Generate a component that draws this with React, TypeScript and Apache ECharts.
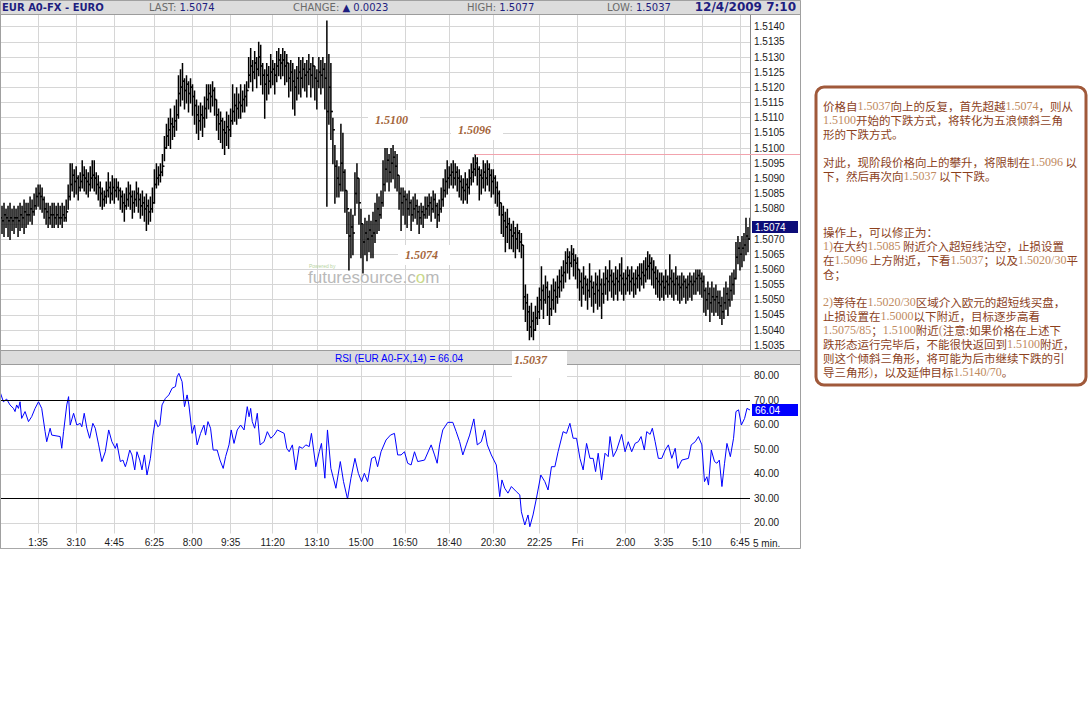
import React, { useEffect, useRef } from 'react';
import * as echarts from 'echarts';

// ---------- DATA ----------
// prices are stored in pips above 1.5000 (price = BASE + pips * PIP)
const BASE = 1.5;
const PIP = 0.0001;

const CLOSE_PIPS = [
  77,76,78,77,76,77,76,77,77,76,78,77,79,78,78,80,79,
  81,84,85,84,83,
  80,79,77,78,78,77,78,77,77,78,77,79,
  84,88,91,89,90,87,89,91,90,89,88,90,91,90,88,87,85,
  83,84,86,87,85,87,86,
  87,86,84,82,81,83,85,84,82,83,85,83,81,82,80,81,79,80,82,
  88,90,91,92,94,100,104,
  106,108,107,109,111,
  118,120,122,119,121,118,120,117,
  114,111,109,111,110,113,
  116,118,117,119,116,
  111,108,109,106,105,107,106,109,
  112,114,113,115,114,116,117,119,
  124,127,125,128,126,130,127,124,121,
  124,122,125,126,124,127,129,128,129,127,128,
  123,125,122,120,123,
  125,123,126,124,125,126,124,127,123,
  122,125,124,126,123,
  112,120,112,106,94,90,88,95,92,86,80,71,74,72,85,90,82,75,69,72,70,73,71,
  72,76,80,78,82,
  88,93,
  96,92,95,97,94,91,
  85,82,84,83,
  80,82,78,80,81,79,77,79,78,80,81,82,80,83,81,78,80,83,
  86,89,90,91,92,
  90,92,90,89,87,86,88,87,90,92,
  93,95,93,91,90,
  92,90,93,91,89,90,87,
  85,82,
  78,76,74,75,73,
  71,72,70,72,69,68,
  51,49,46,41,43,40,44,46,
  50,53,50,54,51,47,50,
  53,51,54,56,58,59,
  62,64,62,65,63,62,60,
  56,54,57,55,53,56,54,52,55,53,55,52,55,57,
  56,58,56,55,57,56,58,57,55,57,
  58,56,57,55,57,58,57,59,58,60,61,62,60,59,57,56,
  55,56,54,56,55,57,56,55,57,55,
  54,55,56,54,55,56,55,56,57,58,57,56,
  53,50,52,49,51,50,51,49,48,46,49,
  52,50,53,55,57,
  64,67,65,67,68,71,70,74,
];

const HIGH_PIPS = [
  83,81,82,80,81,82,80,81,80,81,82,81,83,82,82,84,83,
  85,87,88,88,87,
  84,82,82,81,82,82,81,82,81,82,81,83,
  88,95,95,93,94,91,92,96,94,93,92,94,96,96,92,91,89,
  87,86,89,92,89,91,90,
  90,89,87,86,85,87,89,88,86,86,89,87,85,86,84,85,83,84,87,
  93,95,94,95,98,104,108,
  110,113,110,114,116,
  124,126,128,123,124,122,123,121,
  119,116,114,115,114,117,
  121,121,121,122,120,
  116,113,112,110,109,112,111,113,
  121,118,120,118,121,119,121,122,
  130,133,129,132,130,135,134,128,126,
  128,127,131,129,128,132,133,131,133,132,131,
  128,129,128,126,127,
  130,129,130,128,129,131,128,130,127,
  126,130,129,130,128,
  142,131,128,110,101,96,94,108,105,93,86,79,80,78,92,95,90,80,75,77,76,78,76,
  79,82,85,84,86,
  96,100,
  100,98,100,101,99,98,
  91,87,87,86,
  85,86,83,84,85,83,81,82,81,84,84,85,84,86,85,82,83,87,
  90,93,96,94,95,
  96,95,94,93,91,90,92,90,93,95,
  97,98,97,94,93,
  96,95,96,95,93,93,91,
  89,86,
  82,81,79,80,77,
  75,76,74,75,73,72,
  68,55,52,48,49,46,48,51,
  54,61,55,58,56,53,55,
  57,56,58,60,61,63,
  66,67,66,68,67,65,64,
  60,59,61,58,57,62,58,56,59,58,60,57,59,61,
  60,63,60,59,61,60,62,64,59,60,
  61,60,61,59,60,61,62,62,63,64,66,65,64,63,61,60,
  59,59,58,60,58,65,60,59,61,58,
  58,59,58,57,58,59,58,59,60,60,60,59,
  58,54,56,54,56,54,55,53,53,51,54,
  56,54,58,59,60,
  69,71,69,71,72,77,74,77,
];

const LOW_PIPS = [
  66,72,71,74,71,70,73,72,74,71,73,74,72,74,75,76,75,
  78,80,81,80,79,
  77,75,74,75,74,74,75,74,75,74,76,76,
  80,83,86,84,85,83,86,87,86,85,84,86,87,86,85,83,81,
  80,81,82,84,82,83,82,
  84,83,80,79,76,80,81,80,77,79,81,79,77,78,76,73,75,76,79,
  82,87,88,89,91,96,100,
  101,100,103,104,106,
  110,114,116,113,115,112,115,111,
  108,105,103,106,104,107,
  110,113,112,114,111,
  106,103,102,100,98,101,100,104,
  108,109,108,110,110,112,112,114,
  120,122,119,123,120,124,121,118,110,
  116,118,120,121,118,122,124,123,124,121,122,
  117,119,113,111,116,
  118,117,120,119,117,121,117,120,116,
  113,120,118,120,113,
  81,108,103,95,82,84,84,86,86,79,72,60,64,65,78,82,75,64,59,65,63,66,64,
  64,69,72,73,77,
  81,86,
  89,86,89,90,87,86,
  80,73,78,75,
  74,78,73,76,77,75,72,75,74,77,77,78,76,79,77,74,76,79,
  81,84,85,87,88,
  87,88,86,84,83,82,83,82,85,88,
  89,91,88,83,85,
  87,86,88,86,84,85,82,
  81,78,
  72,71,66,69,67,
  67,66,64,67,66,64,
  47,43,40,37,38,37,40,42,
  44,47,44,49,45,42,45,
  47,46,49,51,53,54,
  56,59,57,61,58,57,54,
  50,48,52,50,47,51,48,46,49,47,48,44,49,52,
  50,53,51,50,52,50,53,52,50,52,
  53,52,53,51,52,54,53,55,54,56,57,57,55,54,52,51,
  50,51,50,52,51,52,51,50,52,50,
  49,50,51,49,50,51,50,52,52,53,52,51,
  46,45,47,43,46,45,46,45,44,42,44,
  47,45,48,50,52,
  57,62,60,61,63,65,66,70,
];

// RSI(14) readings: [bar index, value]
const RSI_POINTS: [number, number][] = [
  [0,73.5],[1.7,69.4],[3.3,70.5],[5,68.1],[6.7,66.7],[7.5,65.4],[8.3,68.1],[9.2,66.7],[10,69.4],[10.8,62.6],
  [12.5,65.4],[14.2,61.3],[15.8,63.3],[17.5,66.7],[19.2,69.4],[20.8,66.7],[22.5,57.2],[23.3,53.1],[25,58.6],[25.8,55.8],
  [30,55.2],[30.8,50.4],[31.7,57.2],[33.3,68.1],[34.2,71.5],[35,59.9],[36.7,64.7],[38.3,59.9],[40,60.6],[40.8,59.2],
  [42,64.7],[43.3,58.6],[44.7,54.5],[46.3,60.6],[47.5,58.6],[49.2,51.8],[50.8,45],[52.5,49],[54.2,57.9],[55.8,53.1],
  [57.5,50.4],[58.3,52.4],[60,45],[61.3,45.6],[62.5,42.9],[63.3,45],[64.7,49.7],[65.8,47.7],[67.2,41.6],[68.3,49],
  [69.7,45.6],[70.8,41.6],[72,47.7],[73.3,39.5],[75,46.3],[76.3,55.8],[77.5,62],[78.7,59.2],[79.7,59.9],[80.8,68.1],
  [82.5,70.8],[84.2,72.2],[85.8,74.9],[87.5,75.6],[88.3,79.6],[89.2,81],[90.8,77.6],[92,67.4],[93.3,72.2],[94.2,68.1],
  [95.8,56.5],[97,59.9],[98.3,51.8],[100,56.5],[101.7,59.9],[102.5,55.8],[103.7,61.3],[105,58.6],[106.3,49.7],[108.3,49.7],
  [109.7,45.6],[111.3,42.2],[112.5,47],[114.2,51.8],[115.3,57.9],[116.7,52.4],[118.3,57.9],[120,59.9],[121.7,57.9],[123.3,67.4],
  [124.2,63.3],[125,66.7],[125.8,61.3],[127,58.6],[128.3,64.7],[129.7,51.8],[131.7,53.1],[133.3,57.2],[135,54.5],[136.7,55.8],
  [138.3,57.9],[141.7,56.5],[143,50.4],[144.2,49],[145.8,51.8],[147.5,41.6],[149.2,51.1],[150.8,50.4],[152.5,51.8],[154.2,51.1],
  [155.3,56.5],[157.5,42.9],[159.2,49],[160.3,52.4],[162,38.2],[163.3,57.9],[165,42.2],[167.5,34.1],[169.7,45],[171.3,36.8],
  [173.3,29.7],[175,38.2],[177,46.3],[178.7,40.2],[180.3,36.8],[181.7,40.2],[183.3,36.8],[185.3,46.3],[187,47],[188.3,42.9],
  [190,49],[192.5,53.8],[194.7,55.8],[196.7,56.5],[198.3,47.7],
  [200,47.7],[201.7,49],[203.3,44.3],[205,43.6],[206.7,49],[208.3,45],[211.7,45.6],[215,51.8],[216.7,47.7],[218,44.3],
  [219.2,51.8],[220.8,57.9],[223.3,61],[225.8,61],[227.5,57.2],[229.2,53.1],[230.8,47.7],[232.5,51.8],[234.2,55.8],[236.3,62.4],
  [238,51.8],[240,53.1],[241.7,57.9],[243,51.8],[245,47.7],[247.5,43.6],[249.2,30.7],[250.3,37.5],[251.7,34.1],[253.3,32.1],
  [255,34.8],[257.5,32.7],[259.2,31.4],[260,24.5],[261.7,19.1],[263.3,23.2],[264.2,18.4],[265.8,23.2],[267.5,30],[269.7,39.5],
  [271.7,36.8],[273.3,33.4],[275,42.9],[276.7,42.9],[278.3,49],[280.8,57.2],[282.5,56.5],[284.2,60.6],[285.8,54.5],[287.5,54.5],
  [289.2,46.3],[290.8,41.6],[292.5,52.4],[294.2,46.3],[295.8,46.3],[297,40.9],[298.3,48.4],[300,37.5],[301.7,48.4],[303.3,47],
  [304.2,55.2],[305.8,47],[307.5,49.7],[310,56.1],[311.7,49],[313.3,53.1],[315,49],[316.7,52.4],[318.3,53.1],[319.7,55.2],
  [321.3,49.7],[322.5,57.2],[324.2,56.1],[325.3,58.6],[326.7,53.1],[328.3,46.3],[330,46.3],[331.7,49.7],[333.3,51.8],[335,46.3],
  [336.7,50.4],[338,42.2],[340,45.6],[343.3,46.3],[344.7,51.8],[346.7,53.1],[348.3,55.2],[350,51.8],[351.3,36.8],[352.5,38.8],
  [353.3,35.4],[354.7,49.7],[356.3,45],[357.5,44.3],[358.7,45.6],[360,34.8],[361.3,44.3],[362.5,52.4],[364.2,47],[365.8,54.5],
  [367,65.4],[368.3,66.1],[369.7,59.9],[371.3,62.6],[372.5,66.7],[374,66.04],
];

const RSI_LEVELS = [70, 30];
const RESIST_START = 237;
const RESIST_LEVEL = 1.5098;

const TICK_INDEX = [19, 38, 57, 77, 96, 115, 136, 158, 180, 202, 224, 246, 269, 288, 312, 331, 350, 369];
const TICK_LABELS = ['1:35','3:10','4:45','6:25','8:00','9:35','11:20','13:10','15:00','16:50','18:40','20:30','22:25','Fri','2:00','3:35','5:10','6:45'];

const HEADER = { title: 'EUR A0-FX - EURO', last: '1.5074', change: '0.0023', high: '1.5077', low: '1.5037', date: '12/4/2009 7:10' };
const RSI_TITLE = 'RSI (EUR A0-FX,14) = 66.04';

const PRICE_NOTES = [
  { text: '1.5100', x: 375, y: 120 },
  { text: '1.5096', x: 458, y: 130 },
  { text: '1.5074', x: 405, y: 255 },
  { text: '1.5037', x: 514, y: 360 },
];

const ANNOT_LINES = [
  '价格自1.5037向上的反复，首先超越1.5074，则从',
  '1.5100开始的下跌方式，将转化为五浪倾斜三角',
  '形的下跌方式。',
  '',
  '对此，现阶段价格向上的攀升，将限制在1.5096 以',
  '下，然后再次向1.5037 以下下跌。',
  '',
  '',
  '',
  '操作上，可以修正为：',
  '1)在大约1.5085 附近介入超短线沽空，止损设置',
  '在1.5096 上方附近，下看1.5037；以及1.5020/30平',
  '仓；',
  '',
  '2)等待在1.5020/30区域介入欧元的超短线买盘，',
  '止损设置在1.5000以下附近，目标逐步高看',
  '1.5075/85；1.5100附近(注意:如果价格在上述下',
  '跌形态运行完毕后，不能很快返回到1.5100附近，',
  '则这个倾斜三角形，将可能为后市继续下跌的引',
  '导三角形)，以及延伸目标1.5140/70。',
];

// ---------- DERIVED ----------
const N = CLOSE_PIPS.length;
const CATEGORIES = Array.from({ length: N }, (_, i) => {
  const m = i * 5;
  return `${Math.floor(m / 60) % 24}:${String(m % 60).padStart(2, '0')}`;
});
const TICK_SET = new Set(TICK_INDEX);
const TICK_MAP = new Map(TICK_INDEX.map((t, k) => [t, TICK_LABELS[k]]));
const toPrice = (p: number) => BASE + p * PIP;
const LAST_PRICE = toPrice(CLOSE_PIPS[N - 1]);
const OHLC = CLOSE_PIPS.map((c, i) => [
  i,
  toPrice(HIGH_PIPS[i]),
  toPrice(LOW_PIPS[i]),
  toPrice(c),
  toPrice(i > 0 ? CLOSE_PIPS[i - 1] : c),
]);

const GRID_COLOR = '#d6d6d6';
const AXIS_COLOR = '#8a8a8a';
const SANS = '"Liberation Sans", Arial, sans-serif';
const LABEL_STYLE = { fontFamily: SANS, fontSize: 10, color: '#1a1a1a' };
const HDR_FONT = '"DejaVu Sans", Verdana, sans-serif';
const NAVY = '#1e1e80';

const tickFn = (index: number) => TICK_SET.has(index);

const renderBar = (_params: any, api: any) => {
  const i = api.value(0);
  const hi = api.coord([i, api.value(1)]);
  const lo = api.coord([i, api.value(2)]);
  const cl = api.coord([i, api.value(3)]);
  const op = api.coord([i, api.value(4)]);
  const x = hi[0];
  const st = { stroke: '#000', lineWidth: 1.5 };
  return {
    type: 'group',
    children: [
      { type: 'line', shape: { x1: x, y1: hi[1], x2: x, y2: lo[1] + 1 }, style: st },
      { type: 'line', shape: { x1: x - 1.3, y1: op[1], x2: x, y2: op[1] }, style: st },
      { type: 'line', shape: { x1: x, y1: cl[1], x2: x + 1.3, y2: cl[1] }, style: st },
    ],
  };
};

function richLine(line: string) {
  return line
    .split(/([0-9.\/()]+)/)
    .filter((s) => s.length > 0)
    .map((s) => (/^[0-9.\/()]+$/.test(s) ? `{d|${s}}` : `{c|${s}}`))
    .join('');
}

export default function App() {
  const ref = useRef<HTMLDivElement>(null);

  useEffect(() => {
    if (!ref.current) return;
    const chart = echarts.init(ref.current, undefined, { renderer: 'svg' });

    const catAxis = (gridIndex: number) => ({
      type: 'category',
      gridIndex,
      data: CATEGORIES,
      boundaryGap: false,
      axisLine: { show: false },
      axisTick: { show: false },
      axisLabel: { show: false, interval: tickFn },
      splitLine: { show: true, interval: tickFn, lineStyle: { color: GRID_COLOR, width: 1 } },
    });

    const option: any = {
      animation: false,
      backgroundColor: '#ffffff',
      grid: [
        { left: 0, top: 11.5, width: 750, height: 348.9 },
        { left: 0, top: 351.3, width: 750, height: 196 },
        { left: 0, top: 533, width: 750, height: 15 },
      ],
      xAxis: [
        catAxis(0),
        catAxis(1),
        { type: 'value', gridIndex: 1, min: 0, max: N - 1, show: false },
        {
          type: 'category',
          gridIndex: 2,
          data: CATEGORIES,
          boundaryGap: false,
          position: 'top',
          z: 60,
          axisLine: { show: true, lineStyle: { color: '#a8a8a8' } },
          axisTick: { show: false },
          splitLine: { show: false },
          axisLabel: {
            show: true,
            inside: true,
            margin: 4,
            interval: tickFn,
            formatter: (_v: string, idx: number) => TICK_MAP.get(idx) ?? '',
            ...LABEL_STYLE,
          },
        },
      ],
      yAxis: [
        {
          type: 'value',
          gridIndex: 0,
          position: 'right',
          min: 1.503,
          max: 1.5145,
          interval: 0.0005,
          axisLine: { show: true, lineStyle: { color: AXIS_COLOR } },
          axisTick: { show: false },
          splitLine: { show: true, lineStyle: { color: GRID_COLOR } },
          axisLabel: {
            margin: 4,
            showMinLabel: false,
            showMaxLabel: false,
            // the tick label hidden under the last-price marker is left blank
            formatter: (v: number) => (Math.abs(v - LAST_PRICE) < 0.0003 ? '' : v.toFixed(4)),
            ...LABEL_STYLE,
          },
        },
        {
          type: 'value',
          gridIndex: 1,
          position: 'right',
          min: 10,
          max: 90,
          interval: 10,
          axisLine: { show: true, lineStyle: { color: AXIS_COLOR } },
          axisTick: { show: false },
          splitLine: { show: true, lineStyle: { color: GRID_COLOR } },
          axisLabel: { margin: 4, showMinLabel: false, showMaxLabel: false, formatter: (v: number) => v.toFixed(2), ...LABEL_STYLE },
        },
        { type: 'value', gridIndex: 2, show: false },
      ],
      series: [
        {
          type: 'custom',
          name: 'EUR A0-FX',
          xAxisIndex: 0,
          yAxisIndex: 0,
          data: OHLC,
          encode: { x: 0, y: [1, 2] },
          renderItem: renderBar,
          clip: true,
          markLine: {
            silent: true,
            symbol: 'none',
            label: { show: false },
            lineStyle: { color: '#f2a3ad', width: 1, type: 'solid' },
            data: [[{ coord: [RESIST_START, RESIST_LEVEL] }, { coord: [N - 1, RESIST_LEVEL] }]],
          },
        },
        {
          type: 'line',
          name: 'RSI',
          xAxisIndex: 2,
          yAxisIndex: 1,
          data: RSI_POINTS,
          showSymbol: false,
          symbol: 'none',
          lineStyle: { color: '#0000ff', width: 1 },
          markLine: {
            silent: true,
            symbol: 'none',
            label: { show: false },
            lineStyle: { color: '#000000', width: 1, type: 'solid' },
            data: RSI_LEVELS.map((v) => ({ yAxis: v })),
          },
        },
      ],
    };

    chart.setOption(option);

    const lastRsi = RSI_POINTS[RSI_POINTS.length - 1][1];
    const yLast = chart.convertToPixel({ yAxisIndex: 0 } as any, LAST_PRICE) as number;
    const yRsi = chart.convertToPixel({ yAxisIndex: 1 } as any, lastRsi) as number;
    const yRes = chart.convertToPixel({ yAxisIndex: 0 } as any, RESIST_LEVEL) as number;

    const hdrRich = {
      l: { fill: '#6a6a6a', fontFamily: HDR_FONT, fontSize: 10 },
      v: { fill: NAVY, fontFamily: HDR_FONT, fontSize: 10 },
    };

    const g: any[] = [
      // pink resistance extension through the axis strip
      { type: 'line', z: 1, shape: { x1: 750, y1: Math.round(yRes) + 0.5, x2: 800, y2: Math.round(yRes) + 0.5 }, style: { stroke: '#f2a3ad', lineWidth: 1 } },
      // top header
      { type: 'rect', z: 50, shape: { x: 0, y: 0, width: 801, height: 14 }, style: { fill: '#dcdcdc' } },
      { type: 'line', z: 51, shape: { x1: 0, y1: 14.5, x2: 801, y2: 14.5 }, style: { stroke: '#9c9c9c', lineWidth: 1 } },
      { type: 'text', z: 52, x: 2, y: 7, style: { text: HEADER.title, fill: NAVY, fontFamily: HDR_FONT, fontSize: 10, fontWeight: 'bold', verticalAlign: 'middle' } },
      { type: 'text', z: 52, x: 149, y: 7, style: { text: `{l|LAST: }{v|${HEADER.last}}`, rich: hdrRich, verticalAlign: 'middle' } },
      { type: 'text', z: 52, x: 293, y: 7, style: { text: `{l|CHANGE: }{v|▲ ${HEADER.change}}`, rich: hdrRich, verticalAlign: 'middle' } },
      { type: 'text', z: 52, x: 467, y: 7, style: { text: `{l|HIGH: }{v|${HEADER.high}}`, rich: hdrRich, verticalAlign: 'middle' } },
      { type: 'text', z: 52, x: 607, y: 7, style: { text: `{l|LOW: }{v|${HEADER.low}}`, rich: hdrRich, verticalAlign: 'middle' } },
      { type: 'text', z: 52, x: 796, y: 7, style: { text: HEADER.date, fill: NAVY, fontFamily: HDR_FONT, fontSize: 12, fontWeight: 'bold', align: 'right', verticalAlign: 'middle' } },
      // RSI header bar
      { type: 'rect', z: 50, shape: { x: 0, y: 350, width: 801, height: 15 }, style: { fill: '#dcdcdc' } },
      { type: 'line', z: 51, shape: { x1: 0, y1: 350.5, x2: 801, y2: 350.5 }, style: { stroke: '#9c9c9c', lineWidth: 1 } },
      { type: 'line', z: 51, shape: { x1: 0, y1: 364.5, x2: 801, y2: 364.5 }, style: { stroke: '#9c9c9c', lineWidth: 1 } },
      { type: 'text', z: 52, x: 399, y: 358, style: { text: RSI_TITLE, fill: '#0000ff', fontFamily: SANS, fontSize: 10, align: 'center', verticalAlign: 'middle' } },
      // bottom label strip cover
      { type: 'rect', z: 50, shape: { x: 0, y: 533.5, width: 801, height: 20 }, style: { fill: '#ffffff' } },
      { type: 'text', z: 52, x: 753, y: 543, style: { text: '5 min.', fill: '#1a1a1a', fontFamily: SANS, fontSize: 10, verticalAlign: 'middle' } },
      // outer frame
      { type: 'rect', z: 55, shape: { x: 0.5, y: 0.5, width: 800, height: 548 }, style: { fill: 'none', stroke: '#a0a0a0', lineWidth: 1 } },
      // last price / last RSI boxes
      { type: 'rect', z: 53, shape: { x: 752, y: Math.round(yLast) - 6, width: 46, height: 12 }, style: { fill: '#0c0c78' } },
      { type: 'text', z: 54, x: 755, y: Math.round(yLast), style: { text: LAST_PRICE.toFixed(4), fill: '#ffffff', fontFamily: SANS, fontSize: 10, verticalAlign: 'middle' } },
      { type: 'rect', z: 53, shape: { x: 752, y: Math.round(yRsi) - 6, width: 46, height: 12 }, style: { fill: '#0000ff' } },
      { type: 'text', z: 54, x: 755, y: Math.round(yRsi), style: { text: lastRsi.toFixed(2), fill: '#ffffff', fontFamily: SANS, fontSize: 10, verticalAlign: 'middle' } },
      // watermark
      { type: 'text', z: 5, x: 309, y: 266, style: { text: 'Powered by', fill: '#b6d3a0', fontFamily: SANS, fontSize: 5, verticalAlign: 'middle' } },
      {
        type: 'text', z: 5, x: 308, y: 277,
        style: {
          text: '{a|futuresource.c}{b|o}{a|m}',
          verticalAlign: 'middle',
          rich: {
            a: { fill: '#b9b9b9', fontFamily: SANS, fontSize: 17 },
            b: { fill: '#c9d98a', fontFamily: SANS, fontSize: 17 },
          },
        },
      },
    ];

    // price annotation labels with white boxes
    PRICE_NOTES.forEach((n) => {
      const isLow = n.text === '1.5037';
      g.push({
        type: 'rect', z: 56,
        shape: isLow ? { x: 512, y: 351, width: 55, height: 27 } : { x: n.x - 7, y: n.y - 10, width: 52, height: 20 },
        style: { fill: '#ffffff' },
      });
      g.push({
        type: 'text', z: 57, x: n.x, y: n.y,
        style: { text: n.text, fill: '#a4653a', fontFamily: '"Liberation Serif", "Times New Roman", serif', fontSize: 12, fontStyle: 'italic', fontWeight: 'bold', verticalAlign: 'middle' },
      });
    });

    // right-hand commentary box
    g.push({ type: 'rect', z: 10, shape: { x: 816, y: 87, width: 270, height: 298, r: 8 }, style: { fill: '#ffffff', stroke: '#a0593a', lineWidth: 3 } });
    const annRich = {
      c: { fill: '#8c3f1c', fontFamily: '"Noto Sans CJK SC", sans-serif', fontSize: 11.5, lineHeight: 13 },
      d: { fill: '#c08a60', fontFamily: '"Liberation Serif", "Times New Roman", serif', fontSize: 12, lineHeight: 13 },
    };
    ANNOT_LINES.forEach((line, k) => {
      if (!line) return;
      g.push({ type: 'text', z: 11, x: 823, y: 106 + k * 14, style: { text: richLine(line), rich: annRich, lineHeight: 13, verticalAlign: 'middle' } });
    });

    chart.setOption({ graphic: g });

    return () => chart.dispose();
  }, []);

  return <div ref={ref} style={{ position: 'absolute', left: 0, top: 0, width: 1091, height: 701, background: '#ffffff' }} />;
}
